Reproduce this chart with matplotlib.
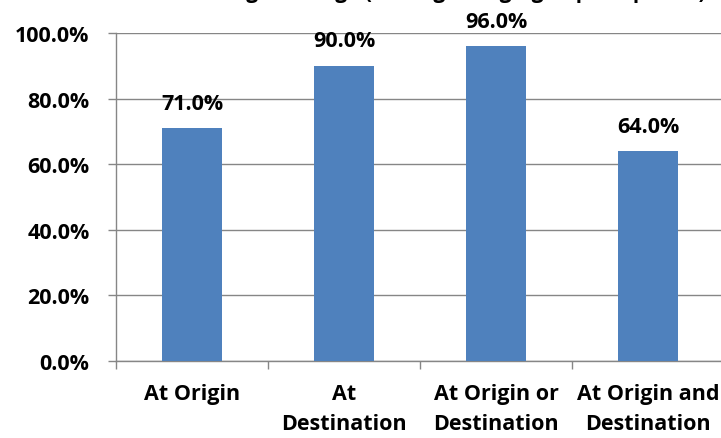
import matplotlib.pyplot as plt
from matplotlib.ticker import FuncFormatter

# chart data
categories = ['At Origin', 'At\nDestination', 'At Origin or\nDestination', 'At Origin and\nDestination']
values = [71.0, 90.0, 96.0, 64.0]
y_ticks = [0, 20, 40, 60, 80, 100]
title = 'Parking Coverage (Among Charging Trip Endpoints)'

plt.rcParams['font.family'] = ['Open Sans', 'DejaVu Sans']
plt.rcParams['font.weight'] = 'bold'
FS = 15.5
GREY = '#868686'

fig = plt.figure(figsize=(7.21, 4.39), dpi=100)
ax = fig.add_axes([116 / 721, 1 - 362 / 439, 608 / 721, 328 / 439])

x = list(range(len(categories)))
bars = ax.bar(x, values, width=0.4, color='#4F81BD', zorder=3)

# value labels above the bars
for xi, v in zip(x, values):
    ax.annotate(f'{v:.1f}%', (xi, v), xytext=(0, 14), textcoords='offset points',
                ha='center', va='baseline', fontsize=FS, fontweight='bold',
                color='black', annotation_clip=False)

ax.set_xlim(-0.5, len(categories) - 0.5)
ax.set_ylim(0, 100)
ax.set_yticks(y_ticks)
ax.yaxis.set_major_formatter(FuncFormatter(lambda v, p: f'{v:.1f}%'))
ax.grid(axis='y', color=GREY, linewidth=1.0, zorder=0)
ax.set_axisbelow(True)

# category ticks sit on the boundaries between bars
ax.set_xticks([i - 0.5 for i in range(len(categories))])
ax.set_xticklabels([])
ax.set_xticks(x, minor=True)
ax.set_xticklabels(categories, minor=True, fontsize=FS, fontweight='bold',
                   linespacing=1.55)
ax.tick_params(axis='x', which='minor', length=0, pad=16)
ax.tick_params(axis='x', which='major', length=6, color=GREY, width=1)
ax.tick_params(axis='y', length=6, color=GREY, width=1, labelsize=FS, pad=13)
for lab in ax.get_yticklabels():
    lab.set_fontweight('bold')

for side in ['top', 'right']:
    ax.spines[side].set_visible(False)
for side in ['left', 'bottom']:
    ax.spines[side].set_color(GREY)
    ax.spines[side].set_linewidth(1.0)

# title is clipped by the top edge in the original, only descenders show
fig.text(706 / 721, 1 + 2 / 439, title, ha='right', va='baseline',
         fontsize=15, fontweight='bold')

fig.savefig('out.png', dpi=100)
